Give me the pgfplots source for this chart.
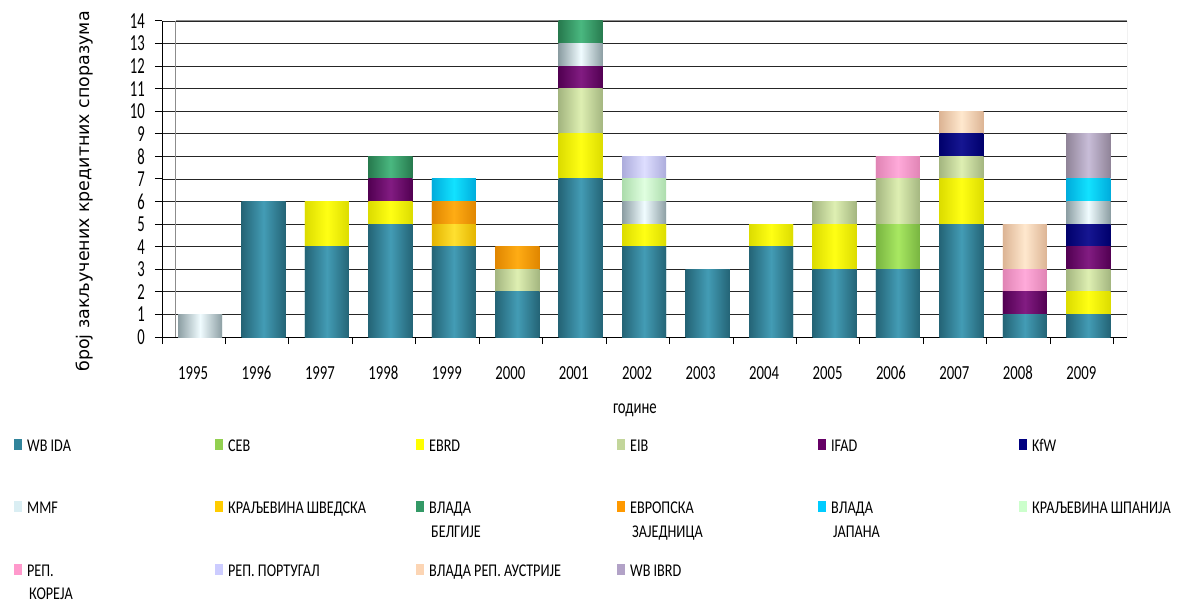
\documentclass[border=0pt]{standalone}
\usepackage{pgfplots}
\usepackage{pgfplotstable}
\pgfplotsset{compat=1.18}
\usepackage{fontspec}
\setmainfont{Carlito}
\newfontfamily\calx[FakeStretch=0.74]{Carlito}
\newfontfamily\caly[FakeStretch=0.64]{Carlito}
\newfontfamily\call[FakeStretch=0.79]{Carlito}
\newfontfamily\dejavu{DejaVu Sans}
\newcommand\wsp{\hspace{3.2bp}}

\definecolor{cWB}{HTML}{31849B}\definecolor{eWB}{HTML}{246476}\definecolor{mWB}{HTML}{439CB5}
\definecolor{cCEB}{HTML}{92D050}\definecolor{eCEB}{HTML}{78B440}\definecolor{mCEB}{HTML}{A8E862}
\definecolor{cEBRD}{HTML}{FFFF00}\definecolor{eEBRD}{HTML}{DCDC00}\definecolor{mEBRD}{HTML}{FFFF14}
\definecolor{cEIB}{HTML}{C3D69B}\definecolor{eEIB}{HTML}{A4B680}\definecolor{mEIB}{HTML}{DEEFB2}
\definecolor{cIFAD}{HTML}{660066}\definecolor{eIFAD}{HTML}{520052}\definecolor{mIFAD}{HTML}{821C82}
\definecolor{cKFW}{HTML}{000080}\definecolor{eKFW}{HTML}{00006C}\definecolor{mKFW}{HTML}{161692}
\definecolor{cMMF}{HTML}{DAEEF3}\definecolor{eMMF}{HTML}{8C9EA3}\definecolor{mMMF}{HTML}{F0FCFF}
\definecolor{cSVE}{HTML}{FFCC00}\definecolor{eSVE}{HTML}{E4B400}\definecolor{mSVE}{HTML}{FFE030}
\definecolor{cBEL}{HTML}{339966}\definecolor{eBEL}{HTML}{277A4E}\definecolor{mBEL}{HTML}{4AB880}
\definecolor{cEZ}{HTML}{FF9900}\definecolor{eEZ}{HTML}{E08600}\definecolor{mEZ}{HTML}{FFAC14}
\definecolor{cJAP}{HTML}{00CCFF}\definecolor{eJAP}{HTML}{00ACDC}\definecolor{mJAP}{HTML}{12E2FF}
\definecolor{cSPA}{HTML}{CCFFCC}\definecolor{eSPA}{HTML}{ACDCAC}\definecolor{mSPA}{HTML}{E0FFE0}
\definecolor{cKOR}{HTML}{FF99CC}\definecolor{eKOR}{HTML}{E084B4}\definecolor{mKOR}{HTML}{FFAADA}
\definecolor{cPOR}{HTML}{CCCCFF}\definecolor{ePOR}{HTML}{ACACDC}\definecolor{mPOR}{HTML}{DEDEFF}
\definecolor{cAUS}{HTML}{FCD5B4}\definecolor{eAUS}{HTML}{DCB494}\definecolor{mAUS}{HTML}{FFE8CE}
\definecolor{cIBRD}{HTML}{B2A2C7}\definecolor{eIBRD}{HTML}{908498}\definecolor{mIBRD}{HTML}{C8BDD8}

\pgfplotstableread{
x  wbida ceb ebrd eib ifad kfw mmf sve bel ez jap spa kor por aus ibrd
0  0 0 0 0 0 0 1 0 0 0 0 0 0 0 0 0
1  6 0 0 0 0 0 0 0 0 0 0 0 0 0 0 0
2  4 0 2 0 0 0 0 0 0 0 0 0 0 0 0 0
3  5 0 1 0 1 0 0 0 1 0 0 0 0 0 0 0
4  4 0 0 0 0 0 0 1 0 1 1 0 0 0 0 0
5  2 0 0 1 0 0 0 0 0 1 0 0 0 0 0 0
6  7 0 2 2 1 0 1 0 1 0 0 0 0 0 0 0
7  4 0 1 0 0 0 1 0 0 0 0 1 0 1 0 0
8  3 0 0 0 0 0 0 0 0 0 0 0 0 0 0 0
9  4 0 1 0 0 0 0 0 0 0 0 0 0 0 0 0
10 3 0 2 1 0 0 0 0 0 0 0 0 0 0 0 0
11 3 2 0 2 0 0 0 0 0 0 0 0 1 0 0 0
12 5 0 2 1 0 1 0 0 0 0 0 0 0 0 1 0
13 1 0 0 0 1 0 0 0 0 0 0 0 1 0 2 0
14 1 0 1 1 1 1 1 0 0 0 1 0 0 0 0 2
}\data

% one shaded segment per data point: a marker that spans the segment below the stacked point
\newcommand\defcyl[3]{%
  \pgfdeclareplotmark{cyl#1}{%
    \ifdim\hv pt>0.1pt
      \fill[left color=#2,right color=#2,middle color=#3] (-22bp,0pt) rectangle (22bp,{-\hv*22.5714bp});%
    \fi}}
\defcyl{WB}{eWB}{mWB}\defcyl{CEB}{eCEB}{mCEB}\defcyl{EBRD}{eEBRD}{mEBRD}\defcyl{EIB}{eEIB}{mEIB}
\defcyl{IFAD}{eIFAD}{mIFAD}\defcyl{KFW}{eKFW}{mKFW}\defcyl{MMF}{eMMF}{mMMF}\defcyl{SVE}{eSVE}{mSVE}
\defcyl{BEL}{eBEL}{mBEL}\defcyl{EZ}{eEZ}{mEZ}\defcyl{JAP}{eJAP}{mJAP}\defcyl{SPA}{eSPA}{mSPA}
\defcyl{KOR}{eKOR}{mKOR}\defcyl{POR}{ePOR}{mPOR}\defcyl{AUS}{eAUS}{mAUS}\defcyl{IBRD}{eIBRD}{mIBRD}

\pgfplotsset{
  bb/.style 2 args={draw=none, fill=c#1, mark=cyl#1,
    visualization depends on={\thisrow{#2} \as \hv},
    legend image code/.code={\fill[c#1] (0bp,-5.5bp) rectangle (7.5bp,5.5bp);}},
}

\begin{document}
\begin{tikzpicture}
\useasboundingbox (0,0) rectangle (1181bp,602bp);
\begin{axis}[
  at={(162bp,265bp)}, anchor=south west,
  scale only axis, width=965bp, height=316bp,
  xmin=-0.6, xmax=14.61, ymin=0, ymax=14,
  ybar stacked, bar width=44bp,
  axis x line*=bottom, axis y line*=left,
  axis line style={black, line width=1bp},
  ytick={0,...,14},
  ymajorgrids, grid style={black!85, line width=0.9bp},
  tick align=outside, major tick length=7bp,
  tick style={black, line width=1bp},
  xtick={-0.6,0.4,...,14.5}, xticklabels={},
  extra x ticks={0,...,14},
  extra x tick labels={1995,1996,1997,1998,1999,2000,2001,2002,2003,2004,2005,2006,2007,2008,2009},
  extra x tick style={tick style={draw=none}},
  xticklabel style={font=\calx\fontsize{20}{20}\selectfont, inner sep=0pt, anchor=north, xshift=-7bp},
  xticklabel shift=22bp,
  yticklabel style={font=\caly\fontsize{23}{23}\selectfont, inner sep=0pt, anchor=east},
  yticklabel shift=10bp,
  /pgf/number format/assume math mode=true,
  xlabel={године},
  xlabel style={font=\calx\fontsize{20}{20}\selectfont, at={(axis description cs:0.490,-0.231)}, anchor=center},
  ylabel={број закључених кредитних споразума},
  ylabel style={font=\dejavu\fontsize{17.5}{17.5}\selectfont, at={(axis description cs:-0.0798,0.4604)}, anchor=center},
  legend columns=6,
  legend style={draw=none, fill=none, inner sep=0pt,
    at={(axis description cs:-0.1534,-0.2405)}, anchor=north west,
    font=\call\fontsize{18}{23.5}\selectfont, row sep=0.5bp,
    nodes={inner sep=0pt, text width=188bp, text height=38bp, text depth=24bp, align=left},
    cells={anchor=west},
    /tikz/every odd column/.append style={column sep=5.5bp}},
]
\addplot[bb={WB}{wbida}] table[x=x,y=wbida]{\data};\addlegendentry{WB\wsp IDA}
\addplot[bb={CEB}{ceb}] table[x=x,y=ceb]{\data};\addlegendentry{CEB}
\addplot[bb={EBRD}{ebrd}] table[x=x,y=ebrd]{\data};\addlegendentry{EBRD}
\addplot[bb={EIB}{eib}] table[x=x,y=eib]{\data};\addlegendentry{EIB}
\addplot[bb={IFAD}{ifad}] table[x=x,y=ifad]{\data};\addlegendentry{IFAD}
\addplot[bb={KFW}{kfw}] table[x=x,y=kfw]{\data};\addlegendentry{KfW}
\addplot[bb={MMF}{mmf}] table[x=x,y=mmf]{\data};\addlegendentry{MMF}
\addplot[bb={SVE}{sve}] table[x=x,y=sve]{\data};\addlegendentry{КРАЉЕВИНА\wsp ШВЕДСКА}
\addplot[bb={BEL}{bel}] table[x=x,y=bel]{\data};\addlegendentry{ВЛАДА\\ \hspace{2bp}БЕЛГИЈЕ}
\addplot[bb={EZ}{ez}] table[x=x,y=ez]{\data};\addlegendentry{ЕВРОПСКА\\ \hspace{2bp}ЗАЈЕДНИЦА}
\addplot[bb={JAP}{jap}] table[x=x,y=jap]{\data};\addlegendentry{ВЛАДА\\ \hspace{2bp}ЈАПАНА}
\addplot[bb={SPA}{spa}] table[x=x,y=spa]{\data};\addlegendentry{КРАЉЕВИНА\wsp ШПАНИЈА}
\addplot[bb={KOR}{kor}] table[x=x,y=kor]{\data};\addlegendentry{РЕП.\\ \hspace{2bp}КОРЕЈА}
\addplot[bb={POR}{por}] table[x=x,y=por]{\data};\addlegendentry{РЕП.\wsp ПОРТУГАЛ}
\addplot[bb={AUS}{aus}] table[x=x,y=aus]{\data};\addlegendentry{ВЛАДА\wsp РЕП.\wsp АУСТРИЈЕ}
\addplot[bb={IBRD}{ibrd}] table[x=x,y=ibrd]{\data};\addlegendentry{WB\wsp IBRD}
\draw[black!45, line width=1bp] (rel axis cs:1,0) -- (rel axis cs:1,1);
\draw[black!45, line width=1bp] (axis cs:-0.38,14) -- (rel axis cs:1,1);
\draw[black!45, line width=1bp] (axis cs:-0.38,0) -- (axis cs:-0.38,14);
\end{axis}
\end{tikzpicture}
\end{document}
